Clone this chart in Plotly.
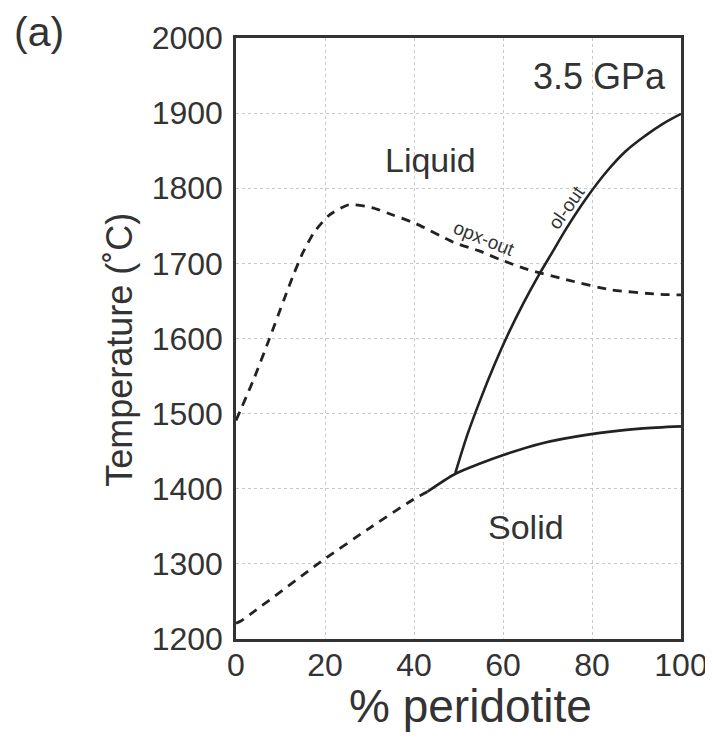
import plotly.graph_objects as go

# opx-out boundary (dashed)
opx_x = [0, 4.0, 7.4, 10.8, 13.0, 15.0, 17.5, 20.9, 25.3, 30.7, 35.4, 40.4, 48.9, 54.5, 59.4, 65.5, 75.1, 84.1, 94.6, 100]
opx_T = [1491, 1546, 1598, 1652, 1686, 1714, 1741, 1764, 1778, 1774, 1764, 1753, 1728, 1717, 1705, 1692, 1677, 1665, 1659, 1658]

# ol-out boundary (solid)
ol_x = [49.3, 52.0, 55.0, 58.0, 61.0, 64.6, 68.0, 71.0, 74.4, 79.0, 83.4, 87.5, 92.0, 96.0, 100]
ol_T = [1421, 1472, 1520, 1564, 1604, 1647, 1684, 1714, 1748, 1789, 1823, 1849, 1870, 1886, 1899]

# solidus (solid part)
sol_x = [43.0, 49.3, 55.0, 60.1, 68.4, 79.1, 90.8, 100]
sol_T = [1396, 1420, 1434, 1445, 1460, 1472, 1480, 1483]

# solidus extrapolated (dashed)
low_x = [0, 1.1, 19.1, 29.6, 39.9, 43.0]
low_T = [1221, 1224, 1303, 1346, 1386, 1396]

x_ticks = [0, 20, 40, 60, 80, 100]
y_ticks = [1200, 1300, 1400, 1500, 1600, 1700, 1800, 1900, 2000]

FONT = "Liberation Sans, Arial, Helvetica, sans-serif"
LINE = "#222222"
TEXT = "#333333"

fig = go.Figure()
fig.add_trace(go.Scatter(x=opx_x, y=opx_T, mode="lines",
                         line=dict(color=LINE, width=2.8, dash="9px,7px", shape="spline", smoothing=0.6),
                         showlegend=False, hoverinfo="skip"))
fig.add_trace(go.Scatter(x=low_x, y=low_T, mode="lines",
                         line=dict(color=LINE, width=2.8, dash="9px,7px", shape="spline", smoothing=0.5),
                         showlegend=False, hoverinfo="skip"))
fig.add_trace(go.Scatter(x=ol_x, y=ol_T, mode="lines",
                         line=dict(color=LINE, width=2.6, shape="spline", smoothing=1.0),
                         showlegend=False, hoverinfo="skip"))
fig.add_trace(go.Scatter(x=sol_x, y=sol_T, mode="lines",
                         line=dict(color=LINE, width=2.6, shape="spline", smoothing=0.8),
                         showlegend=False, hoverinfo="skip"))

annots = [
    dict(x=43.8, y=1837, text="Liquid", font=dict(size=34)),
    dict(x=65.2, y=1349, text="Solid", font=dict(size=34)),
    dict(x=81.6, y=1949, text="3.5 GPa", font=dict(size=36)),
    dict(x=55.7, y=1733, text="opx-out", font=dict(size=19), textangle=22),
    dict(x=74.2, y=1775, text="ol-out", font=dict(size=19), textangle=-55),
]
for a in annots:
    a.update(xref="x", yref="y", showarrow=False, xanchor="center", yanchor="middle")
    a["font"].update(family=FONT, color=TEXT)
    fig.add_annotation(**a)

# panel label and axis titles
fig.add_annotation(xref="paper", yref="paper", x=-0.4417, y=1.01, text="(a)", showarrow=False,
                   xanchor="center", yanchor="middle", font=dict(family=FONT, size=41, color=TEXT))
fig.add_annotation(xref="paper", yref="paper", x=-0.262, y=0.482, text="Temperature (˚C)",
                   textangle=-90, showarrow=False, xanchor="center", yanchor="middle",
                   font=dict(family=FONT, size=36, color=TEXT))
fig.add_annotation(xref="paper", yref="paper", x=0.527, y=-0.112, text="% peridotite",
                   showarrow=False, xanchor="center", yanchor="middle",
                   font=dict(family=FONT, size=46, color=TEXT))

fig.update_layout(
    width=713, height=738,
    margin=dict(l=228, r=40, t=23, b=107),
    paper_bgcolor="white", plot_bgcolor="white",
    font=dict(family=FONT, color=TEXT),
    xaxis=dict(range=[0, 100], tickvals=x_ticks, ticks="", showline=True, mirror=True,
               linecolor="#333333", linewidth=2.5, showgrid=True, gridcolor="#c8c8c8",
               griddash="dot", gridwidth=1, zeroline=False, tickfont=dict(size=32, color=TEXT),
               ticklabelstandoff=-4),
    yaxis=dict(range=[1200, 2000], tickvals=y_ticks, ticks="", showline=True, mirror=True,
               linecolor="#333333", linewidth=2.5, showgrid=True, gridcolor="#c8c8c8",
               griddash="dot", gridwidth=1, zeroline=False, tickfont=dict(size=32, color=TEXT),
               ticklabelstandoff=4),
)

fig.write_html("out.html")
